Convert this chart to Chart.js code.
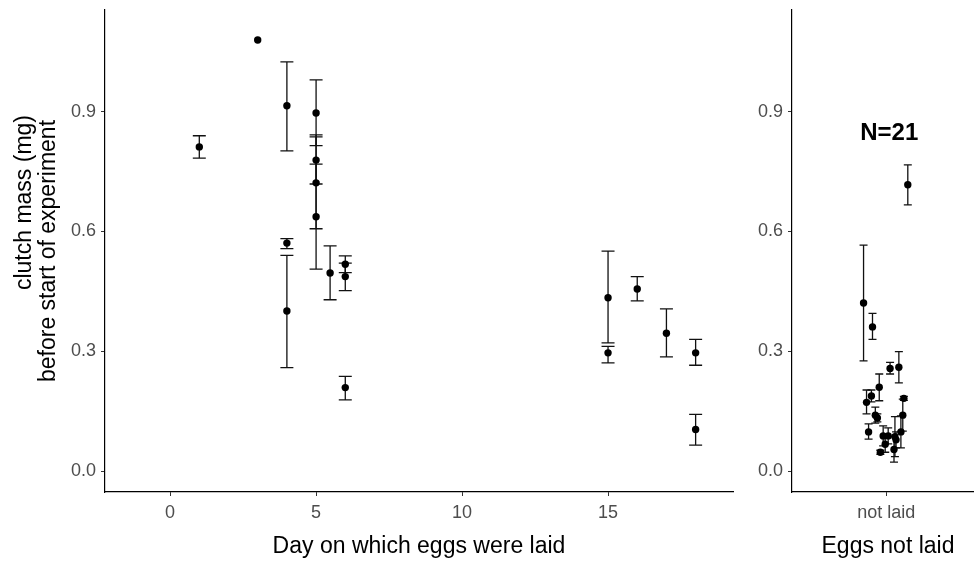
<!DOCTYPE html>
<html>
<head>
<meta charset="utf-8">
<script src="https://cdn.jsdelivr.net/npm/chart.js@4"></script>
<style>
  html, body { margin: 0; padding: 0; background: #fff; overflow: hidden; }
  #wrap { position: relative; width: 974px; height: 562px; overflow: hidden; }
  #laidChart { position: absolute; left: 0; top: 0; }
  #notLaidChart { position: absolute; left: 735px; top: 0; }
</style>
</head>
<body>
<div id="wrap">
  <canvas id="laidChart" width="745" height="562"></canvas>
  <canvas id="notLaidChart" width="249" height="562"></canvas>
</div>
<script>
// eggs laid: day, clutch mass and error bar limits
const laidDay  = [1, 3, 4, 4, 4, 5, 5, 5, 5, 5.48, 6, 6, 6, 15, 15, 16, 17, 18, 18];
const laidMass = [0.812, 1.080, 0.915, 0.571, 0.401, 0.897, 0.779, 0.722, 0.637, 0.496, 0.518, 0.487, 0.209, 0.434, 0.296, 0.456, 0.345, 0.296, 0.104];
const laidLow  = [0.784, null, 0.802, 0.557, 0.259, 0.815, 0.719, 0.607, 0.506, 0.429, 0.497, 0.452, 0.178, 0.321, 0.271, 0.426, 0.286, 0.265, 0.065];
const laidHigh = [0.840, null, 1.025, 0.582, 0.540, 0.980, 0.842, 0.837, 0.769, 0.564, 0.539, 0.521, 0.237, 0.551, 0.312, 0.487, 0.406, 0.330, 0.142];

// eggs not laid: jittered position around the single category
const notLaidX    = [1.138, 0.856, 0.913, 1.025, 1.081, 0.956, 0.906, 0.875, 1.113, 0.931, 0.944, 1.106, 0.888, 0.981, 1.013, 1.056, 1.094, 1.063, 0.994, 0.963, 1.050];
const notLaidMass = [0.717, 0.421, 0.361, 0.257, 0.260, 0.210, 0.188, 0.172, 0.182, 0.140, 0.133, 0.140, 0.098, 0.088, 0.088, 0.086, 0.098, 0.078, 0.067, 0.047, 0.054];
const notLaidLow  = [0.667, 0.276, 0.330, 0.243, 0.221, 0.176, 0.173, 0.143, 0.177, 0.120, 0.123, 0.100, 0.080, 0.063, 0.068, 0.036, 0.058, 0.058, 0.047, 0.042, 0.022];
const notLaidHigh = [0.767, 0.566, 0.395, 0.272, 0.299, 0.243, 0.203, 0.203, 0.187, 0.160, 0.143, 0.180, 0.118, 0.113, 0.108, 0.136, 0.138, 0.098, 0.087, 0.052, 0.086];

const dayTicks = [0, 5, 10, 15];
const massTicks = [0, 0.3, 0.6, 0.9];
const notLaidLabel = "not laid";
const countLabel = "N=21";

const FONT = "'Liberation Sans', Arial, sans-serif";
const Y_MIN = -0.0526, Y_MAX = 1.155;

const errorBars = {
  id: "errorBars",
  beforeDatasetsDraw(chart, args, opts) {
    const { ctx, scales: { x, y } } = chart;
    const pts = chart.data.datasets[0].data;
    ctx.save();
    ctx.strokeStyle = "#111";
    ctx.lineWidth = 1.3;
    const w = opts.cap;
    pts.forEach((p) => {
      if (p.lo == null) return;
      const px = x.getPixelForValue(p.x);
      const top = y.getPixelForValue(p.hi);
      const bot = y.getPixelForValue(p.lo);
      ctx.beginPath();
      ctx.moveTo(px, top); ctx.lineTo(px, bot);
      ctx.moveTo(px - w, top); ctx.lineTo(px + w, top);
      ctx.moveTo(px - w, bot); ctx.lineTo(px + w, bot);
      ctx.stroke();
    });
    ctx.restore();
  },
};

// axis titles drawn by hand so the two-line y title lines up like the original
const axisTitles = {
  id: "axisTitles",
  afterDraw(chart, args, opts) {
    const { ctx, chartArea } = chart;
    ctx.save();
    ctx.fillStyle = "#000";
    ctx.font = "23px " + FONT;
    ctx.textAlign = "center";
    ctx.textBaseline = "middle";
    ctx.fillText(opts.xTitle, opts.xCenter, 547);
    if (opts.yLines) {
      const anchor = 115;
      const mid = (chartArea.top + chartArea.bottom) / 2;
      ctx.save();
      ctx.translate(25, anchor);
      ctx.rotate(-Math.PI / 2);
      ctx.textAlign = "right";
      ctx.fillText(opts.yLines[0], 0, 0);
      ctx.restore();
      ctx.save();
      ctx.translate(49, mid);
      ctx.rotate(-Math.PI / 2);
      ctx.fillText(opts.yLines[1], 0, 0);
      ctx.restore();
    }
    if (opts.note) {
      const px = chart.scales.x.getPixelForValue(opts.note.x);
      const py = chart.scales.y.getPixelForValue(opts.note.y);
      ctx.font = "bold 24px " + FONT;
      ctx.fillText(opts.note.text, px, py);
    }
    ctx.restore();
  },
};

function yScale(width) {
  return {
    min: Y_MIN,
    max: Y_MAX,
    afterBuildTicks: (s) => { s.ticks = massTicks.map((v) => ({ value: v })); },
    afterFit: (s) => { s.width = width; s.paddingTop = 0; s.paddingBottom = 0; },
    ticks: {
      callback: (v) => v.toFixed(1),
      color: "#4d4d4d",
      font: { family: FONT, size: 18 },
      padding: 5,
    },
    grid: { drawOnChartArea: false, drawTicks: true, tickLength: 4, color: "#333" },
    border: { display: true, color: "#000", width: 1.2 },
    title: { display: false },
  };
}

function xScale(min, max, ticks, label) {
  return {
    type: "linear",
    min: min,
    max: max,
    afterBuildTicks: (s) => { s.ticks = ticks.map((v) => ({ value: v })); },
    afterFit: (s) => { s.height = 70; s.paddingLeft = 0; s.paddingRight = 0; },
    ticks: {
      callback: label ? () => label : (v) => String(v),
      color: "#4d4d4d",
      font: { family: FONT, size: 18 },
      padding: 6,
      maxRotation: 0,
    },
    grid: { drawOnChartArea: false, drawTicks: true, tickLength: 4, color: "#333" },
    border: { display: true, color: "#000", width: 1.2 },
    title: { display: false },
  };
}

function points(xs, ys, lo, hi) {
  return xs.map((x, i) => ({ x: x, y: ys[i], lo: lo[i], hi: hi[i] }));
}

const baseDataset = {
  backgroundColor: "#000",
  borderWidth: 0,
  pointRadius: 3.7,
  pointHoverRadius: 3.7,
};

new Chart(document.getElementById("laidChart").getContext("2d"), {
  type: "scatter",
  data: {
    datasets: [{ ...baseDataset, data: points(laidDay, laidMass, laidLow, laidHigh) }],
  },
  options: {
    responsive: false,
    animation: false,
    layout: { padding: { top: 10, right: 12, bottom: 0, left: 0 } },
    scales: {
      x: xScale(-2.23, 19.28, dayTicks, null),
      y: yScale(105),
    },
    plugins: {
      legend: { display: false },
      tooltip: { enabled: false },
      errorBars: { cap: 6.5 },
      axisTitles: {
        xTitle: "Day on which eggs were laid",
        xCenter: 419,
        yLines: ["clutch mass (mg)", "before start of experiment"],
      },
    },
  },
  plugins: [errorBars, axisTitles],
});

new Chart(document.getElementById("notLaidChart").getContext("2d"), {
  type: "scatter",
  data: {
    datasets: [{ ...baseDataset, data: points(notLaidX, notLaidMass, notLaidLow, notLaidHigh) }],
  },
  options: {
    responsive: false,
    animation: false,
    layout: { padding: { top: 10, right: 0, bottom: 0, left: 0 } },
    scales: {
      x: xScale(0.4, 1.6, [1], notLaidLabel),
      y: yScale(57),
    },
    plugins: {
      legend: { display: false },
      tooltip: { enabled: false },
      errorBars: { cap: 4 },
      axisTitles: {
        xTitle: "Eggs not laid",
        xCenter: 153,
        note: { text: countLabel, x: 1.02, y: 0.845 },
      },
    },
  },
  plugins: [errorBars, axisTitles],
});
</script>
</body>
</html>
